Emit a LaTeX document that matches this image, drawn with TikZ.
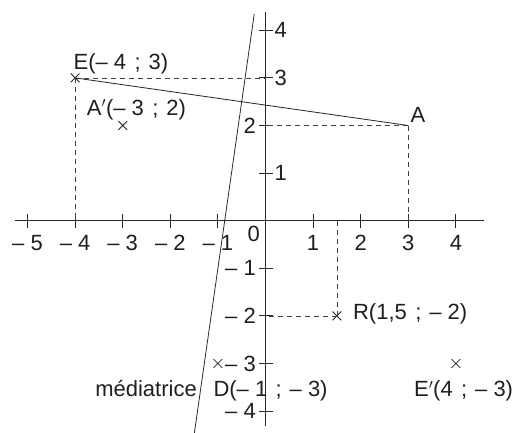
\documentclass[tikz,border=0pt]{standalone}
\usepackage{fontspec}
\setmainfont{Liberation Sans}
\usetikzlibrary{shapes.misc}
\newcommand\semi{\hspace{0.38em};\hspace{0.36em}}
\begin{document}
\begin{tikzpicture}[x=47.6pt,y=47.6pt,
  every node/.style={font=\fontsize{22}{26}\selectfont, inner sep=0pt, text=black!88},
  axisline/.style={line width=0.9pt, draw=black!85},
  thinline/.style={line width=0.8pt, draw=black!85},
  dashline/.style={line width=0.8pt, draw=black!75, dash pattern=on 5pt off 4pt},
  crossmark/.style={cross out, draw=black!85, line width=0.8pt, minimum size=8pt, inner sep=0pt},
  xlab/.style={anchor=base, yshift=-29.5pt},
  ylabr/.style={anchor=west, xshift=9pt},
  ylabl/.style={anchor=east, xshift=-9.5pt}]
\useasboundingbox (-265.5pt,-211.3pt) rectangle (250.5pt,220.7pt);
% axes
\coordinate (xl) at (-5.26,0);
\coordinate (xr) at (4.59,0);
\coordinate (yb) at (0,-4.31);
\coordinate (yt) at (0,4.39);
\draw[axisline] (xl) -- (xr);
\draw[axisline] (yb) -- (yt);
% ticks
\foreach \i in {-5,-4,-3,-2,-1,1,2,3,4}
  \draw[axisline] (\i,-7pt) -- (\i,7pt);
\foreach \i in {-4,-3,-2,-1,1,2,3,4}
  \draw[axisline] (-7pt,\i) -- (7pt,\i);
% x labels
\node[xlab] (xm5) at (-5,0) {– 5};
\node[xlab] (xm4) at (-4,0) {– 4};
\node[xlab] (xm3) at (-3,0) {– 3};
\node[xlab] (xm2) at (-2,0) {– 2};
\node[xlab] (xm1) at (-1,0) {– 1};
\node[xlab] (x1) at (1,0) {1};
\node[xlab] (x2) at (2,0) {2};
\node[xlab] (x3) at (3,0) {3};
\node[xlab] (x4) at (4,0) {4};
\node[anchor=base east] (o) at (-5.5pt,-21pt) {0};
% y labels
\node[ylabr] (y4) at (0,4) {4};
\node[ylabr] (y3) at (0,3) {3};
\node[ylabl] (y2) at (0,2) {2};
\node[ylabr] (y1) at (0,1) {1};
\node[ylabl] (ym1) at (0,-1) {– 1};
\node[ylabl] (ym2) at (0,-2) {– 2};
\node[ylabl] (ym3) at (0,-3) {– 3};
\node[ylabl] (ym4) at (0,-4) {– 4};
% points
\node[crossmark] (E) at (-4,3) {};
\node[crossmark] (Ap) at (-3,2) {};
\coordinate (A) at (3,2);
\node[crossmark] (R) at (1.5,-2) {};
\node[crossmark] (Ep) at (4,-3) {};
\node[crossmark] (D) at (-1,-3) {};
% projections
\coordinate (E0) at (-4,0);
\coordinate (E3) at (0,3);
\coordinate (A0) at (3,0);
\coordinate (A2) at (0,2);
\coordinate (R0) at (1.5,0);
\coordinate (R2) at (0,-2);
\draw[dashline] (E.center) -- (E3);
\draw[dashline] (E.center) -- (E0);
\draw[dashline] (A) -- (A2);
\draw[dashline] (A) -- (A0);
\draw[dashline] (R.center) -- (R2);
\draw[dashline] (R.center) -- (R0);
% segment EA
\draw[thinline] (E.center) -- (A);
% mediatrice
\coordinate (mtop) at (-0.2371,4.34);
\coordinate (mbot) at (-1.5071,-4.55);
\draw[thinline] (mbot) -- (mtop);
% labels
\node[anchor=base west] (Elab) at ([shift={(-1.7pt,8.3pt)}]E.center) {E(– 4\semi 3)};
\node[anchor=base west] (Aplab) at ([shift={(-36pt,10.5pt)}]Ap.center) {A$'$(– 3\semi 2)};
\node[anchor=base west] (Alab) at ([shift={(2pt,3.5pt)}]A) {A};
\node[anchor=base west] (Rlab) at ([shift={(16pt,-4pt)}]R.center) {R(1,5\semi – 2)};
\node[anchor=base west] (Eplab) at ([shift={(-42pt,-33.2pt)}]Ep.center) {E$'$(4\semi – 3)};
\node[anchor=base west] (Dlab) at ([shift={(-4.6pt,-33.2pt)}]D.center) {D(– 1\semi – 3)};
\node[anchor=base east] (mlab) at (-1.439,-3.683) {médiatrice};
\end{tikzpicture}
\end{document}
